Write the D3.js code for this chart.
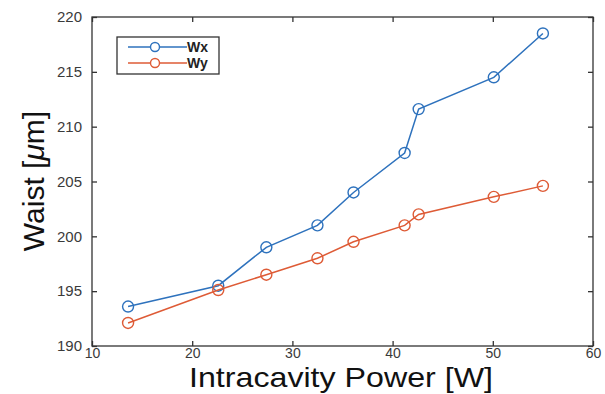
<!DOCTYPE html>
<html>
<head>
<meta charset="utf-8">
<script src="https://cdn.jsdelivr.net/npm/d3@7"></script>
<style>
  body { margin: 0; background: #fff; overflow: hidden; }
  text { font-family: "Liberation Sans", Arial, sans-serif; }
</style>
</head>
<body>
<script>
// values
var power = [13.6, 22.6, 27.4, 32.5, 36.1, 41.2, 42.6, 50.1, 55];
var wx = [193.6, 195.5, 199.0, 201.0, 204.0, 207.6, 211.6, 214.5, 218.5];
var wy = [192.1, 195.1, 196.5, 198.0, 199.5, 201.0, 202.0, 203.6, 204.6];
var xTicks = [10, 20, 30, 40, 50, 60];
var yTicks = [190, 195, 200, 205, 210, 215, 220];
var seriesNames = ["Wx", "Wy"];
var seriesColors = ["#2e72bd", "#de5b36"];

var width = 605, height = 394;
var margin = {left: 92, right: 12, top: 17, bottom: 48};

var svg = d3.select("body").append("svg")
    .attr("width", width)
    .attr("height", height);

var x = d3.scaleLinear().domain([10, 60]).range([margin.left, width - margin.right]);
var y = d3.scaleLinear().domain([190, 220]).range([height - margin.bottom, margin.top]);

// axes box
svg.append("rect")
    .attr("x", x(10)).attr("y", y(220))
    .attr("width", x(60) - x(10)).attr("height", y(190) - y(220))
    .attr("fill", "none").attr("stroke", "#333").attr("stroke-width", 1.3);

// ticks (inward, mirrored like matlab)
var tl = 5;
svg.append("g").attr("class", "xax").attr("transform", "translate(0," + y(190) + ")")
    .call(d3.axisBottom(x).tickValues(xTicks).tickSize(-tl).tickPadding(2))
    .call(function(g) { g.select(".domain").remove(); });
svg.append("g").attr("transform", "translate(0," + y(220) + ")")
    .call(d3.axisTop(x).tickValues(xTicks).tickSize(-tl).tickFormat(""))
    .call(function(g) { g.select(".domain").remove(); });
svg.append("g").attr("transform", "translate(" + x(10) + ",0)")
    .call(d3.axisLeft(y).tickValues(yTicks).tickSize(-tl).tickPadding(10))
    .call(function(g) { g.select(".domain").remove(); });
svg.append("g").attr("transform", "translate(" + x(60) + ",0)")
    .call(d3.axisRight(y).tickValues(yTicks).tickSize(-tl).tickFormat(""))
    .call(function(g) { g.select(".domain").remove(); });

svg.selectAll(".tick line").attr("stroke", "#333").attr("stroke-width", 1.3);
svg.selectAll(".tick text")
    .attr("fill", "#3a3a3a")
    .style("font-size", "15px")
    .style("font-family", "Liberation Sans, Arial, sans-serif");
svg.selectAll(".xax .tick text").style("font-size", "14px");

// series
var line = d3.line()
    .x(function(d) { return x(d[0]); })
    .y(function(d) { return y(d[1]); });

[wx, wy].forEach(function(vals, i) {
    var pts = power.map(function(p, j) { return [p, vals[j]]; });
    svg.append("path")
        .datum(pts)
        .attr("d", line)
        .attr("fill", "none")
        .attr("stroke", seriesColors[i])
        .attr("stroke-width", 1.5);
    svg.selectAll(".m" + i)
        .data(pts)
        .enter().append("circle")
        .attr("class", "m" + i)
        .attr("cx", function(d) { return x(d[0]); })
        .attr("cy", function(d) { return y(d[1]); })
        .attr("r", 5.5)
        .attr("fill", "none")
        .attr("stroke", seriesColors[i])
        .attr("stroke-width", 1.4);
});

// legend
var lg = svg.append("g").attr("transform", "translate(117,37)");
lg.append("rect")
    .attr("width", 102).attr("height", 37)
    .attr("fill", "#fff").attr("stroke", "#333").attr("stroke-width", 1.3);
seriesNames.forEach(function(name, i) {
    var yy = 10 + i * 16;
    lg.append("line")
        .attr("x1", 11).attr("x2", 70).attr("y1", yy).attr("y2", yy)
        .attr("stroke", seriesColors[i]).attr("stroke-width", 1.5);
    lg.append("circle")
        .attr("cx", 38).attr("cy", yy).attr("r", 4.5)
        .attr("fill", "#fff").attr("stroke", seriesColors[i]).attr("stroke-width", 1.4);
    lg.append("text")
        .attr("x", 70).attr("y", yy + 5)
        .style("font-size", "14px")
        .style("font-weight", "bold")
        .attr("fill", "#222")
        .text(name);
});

// axis labels
svg.append("text")
    .attr("x", 341)
    .attr("y", 387)
    .attr("text-anchor", "middle")
    .attr("textLength", 304)
    .attr("lengthAdjust", "spacingAndGlyphs")
    .style("font-size", "28px")
    .attr("fill", "#111")
    .text("Intracavity Power [W]");

var yl = svg.append("text")
    .attr("transform", "translate(44,181) rotate(-90)")
    .attr("text-anchor", "middle")
    .style("font-size", "30px")
    .attr("fill", "#111");
yl.append("tspan").text("Waist [");
yl.append("tspan").style("font-style", "italic").text("\u03bc");
yl.append("tspan").text("m]");
</script>
</body>
</html>
